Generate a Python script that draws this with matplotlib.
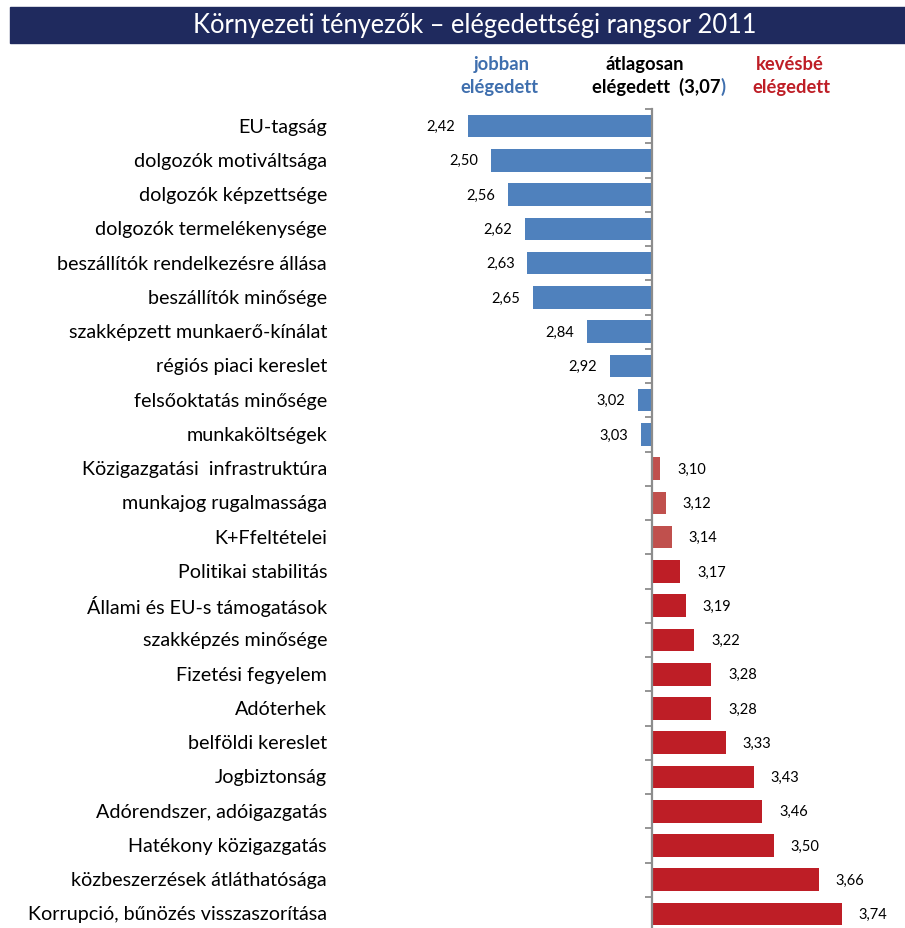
import matplotlib
matplotlib.use("Agg")
import matplotlib.pyplot as plt
from matplotlib.patches import Rectangle
import matplotlib.transforms as mtransforms

categories = [
    "EU-tagság", "dolgozók motiváltsága", "dolgozók képzettsége",
    "dolgozók termelékenysége", "beszállítók rendelkezésre állása",
    "beszállítók minősége", "szakképzett munkaerő-kínálat",
    "régiós piaci kereslet", "felsőoktatás minősége", "munkaköltségek",
    "Közigazgatási  infrastruktúra", "munkajog rugalmassága", "K+Ffeltételei",
    "Politikai stabilitás", "Állami és EU-s támogatások", "szakképzés minősége",
    "Fizetési fegyelem", "Adóterhek", "belföldi kereslet", "Jogbiztonság",
    "Adórendszer, adóigazgatás", "Hatékony közigazgatás",
    "közbeszerzések átláthatósága", "Korrupció, bűnözés visszaszorítása",
]
values = [2.42, 2.50, 2.56, 2.62, 2.63, 2.65, 2.84, 2.92, 3.02, 3.03,
          3.10, 3.12, 3.14, 3.17, 3.19, 3.22, 3.28, 3.28, 3.33, 3.43,
          3.46, 3.50, 3.66, 3.74]
average = 3.07
value_labels = [f"{v:.2f}".replace(".", ",") for v in values]

BLUE = "#4F81BD"
LRED = "#C0504D"
DRED = "#BE1E26"
FONT = ["Lato", "DejaVu Sans"]
plt.rcParams["font.family"] = FONT

W, H = 905, 929
fig = plt.figure(figsize=(W / 100, H / 100), dpi=100)

# title bar
fig.patches.append(Rectangle((10 / W, 1 - 44 / H), 895 / W, 36 / H,
                             transform=fig.transFigure, color="#1F2A5E", zorder=0))
fig.text(193 / W, 1 - 26 / H, "Környezeti tényezők – elégedettségi rangsor 2011",
         color="white", fontsize=18.4, va="center", ha="left")

# headers
HF = 13.2
fig.text(502 / W, 1 - 65 / H, "jobban", color="#3F6FAE", fontsize=HF,
         fontweight="bold", ha="center", va="center")
fig.text(499 / W, 1 - 87 / H, "elégedett", color="#3F6FAE", fontsize=HF,
         fontweight="bold", ha="center", va="center")
fig.text(645 / W, 1 - 65 / H, "átlagosan", color="black", fontsize=HF,
         fontweight="bold", ha="center", va="center")
t = fig.text(592 / W, 1 - 87 / H, "elégedett  (3,07", color="black", fontsize=HF,
             fontweight="bold", ha="left", va="center")
fig.canvas.draw()
bb = t.get_window_extent()
fig.text(bb.x1 / W, 1 - 87 / H, ")", color="#3F6FAE", fontsize=HF,
         fontweight="bold", ha="left", va="center")
fig.text(790 / W, 1 - 65 / H, "kevésbé", color=DRED, fontsize=HF,
         fontweight="bold", ha="center", va="center")
fig.text(791 / W, 1 - 87 / H, "elégedett", color=DRED, fontsize=HF,
         fontweight="bold", ha="center", va="center")

# axes
ax_left, ax_right = 340, 900
ppu = 283.0
x_lo = average - (652 - ax_left) / ppu
x_hi = average + (ax_right - 652) / ppu
ax = fig.add_axes([ax_left / W, 0, (ax_right - ax_left) / W, (929 - 110) / H])
n = len(categories)
spacing = 34.26
y_bottom = (929 - 127) / spacing
ax.set_xlim(x_lo, x_hi)
ax.set_ylim(y_bottom, -0.5)

ys = list(range(n))
colors = []
for v in values:
    if v < average:
        colors.append(BLUE)
    elif v <= 3.15:
        colors.append(LRED)
    else:
        colors.append(DRED)
widths = [v - average for v in values]
ax.barh(ys, widths, left=average, height=0.66, color=colors, zorder=2)

for sp in ["top", "right", "bottom"]:
    ax.spines[sp].set_visible(False)
ax.spines["left"].set_position(("data", average))
ax.spines["left"].set_color("#8C8C8C")
ax.spines["left"].set_linewidth(1.6)
ax.spines["left"].set_zorder(3)
ax.set_xticks([])
ax.set_yticks([i - 0.5 for i in range(n)])
ax.set_yticklabels([])
ax.tick_params(axis="y", direction="out", length=5, width=1.3, color="#8C8C8C")
ax.patch.set_alpha(0)

trans = mtransforms.blended_transform_factory(fig.transFigure, ax.transData)
for i, (c, v, lab) in enumerate(zip(categories, values, value_labels)):
    fig.text(327 / W, i, c, transform=trans, ha="right", va="center",
             fontsize=14.2, color="black")
    if v < average:
        ax.annotate(lab, (v, i), xytext=(-9, 0), textcoords="offset points",
                    ha="right", va="center", fontsize=10.5)
    else:
        ax.annotate(lab, (v, i), xytext=(12, 0), textcoords="offset points",
                    ha="left", va="center", fontsize=10.5)

fig.savefig("out.png", dpi=100)
